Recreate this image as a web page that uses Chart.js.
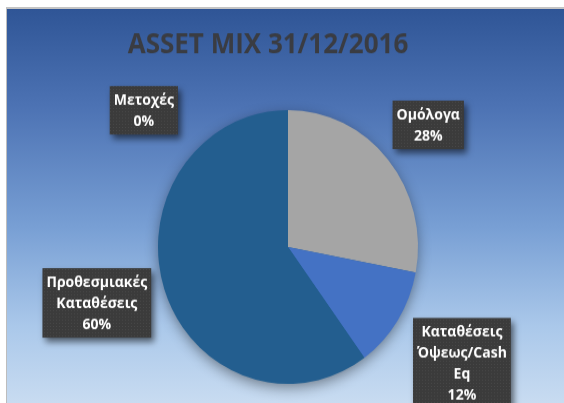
<!DOCTYPE html>
<html lang="el">
<head>
    <meta charset="UTF-8">
    <title>Asset Mix</title>
    <script src="https://cdn.jsdelivr.net/npm/chart.js"></script>
    <style>
        body { margin: 0; background: #fff; width: 564px; height: 403px; overflow: hidden; }
        .moldura {
            position: absolute; left: 6px; top: 7px; width: 558px; height: 396px;
            border-left: 1px solid #bdbdbd; border-top: 2px solid #c4c4c4;
            background: linear-gradient(to bottom, #2f5596 0%, #4d73b4 25%, #789fd4 55%, #aac8ea 80%, #c9dcf1 100%);
            overflow: hidden;
        }
        #grafico { transform-origin: 0 0; transform: scaleY(1.053); }
    </style>
</head>
<body>
    <div class="moldura">
        <canvas id="grafico" width="557" height="376"></canvas>
    </div>

<script>
    // dados
    const titulo = 'ASSET MIX 31/12/2016';
    const categorias = [['Ομόλογα'], ['Καταθέσεις', 'Όψεως/Cash', 'Eq'], ['Προθεσμιακές', 'Καταθέσεις'], ['Μετοχές']];
    const valores = [28, 12, 60, 0];
    const cores = ['#a5a5a5', '#4472c4', '#235e8f', '#ffc000'];

    // posição das caixas dos rótulos (distância além do raio, ângulo opcional)
    const posRotulos = [
        { dist: 52 },
        { dist: 76 },
        { dist: 71, dy: -9 },
        { dist: 64, angulo: -48 }
    ];

    const fonteRotulo = 'bold 14px "Open Sans"';
    const alturaLinha = 20;

    function padraoPontos(ctx) {
        const c = document.createElement('canvas');
        c.width = 3; c.height = 3;
        const p = c.getContext('2d');
        p.fillStyle = '#3b3b3b';
        p.fillRect(0, 0, 3, 3);
        p.fillStyle = '#484848';
        p.fillRect(1, 1, 1, 1);
        return ctx.createPattern(c, 'repeat');
    }

    const sombraPizza = {
        id: 'sombraPizza',
        beforeDatasetsDraw(chart) {
            const arc = chart.getDatasetMeta(0).data[0];
            const ctx = chart.ctx;
            ctx.save();
            ctx.shadowColor = 'rgba(0,0,0,0.45)';
            ctx.shadowBlur = 14;
            ctx.shadowOffsetY = 4;
            ctx.beginPath();
            ctx.arc(arc.x, arc.y, arc.outerRadius - 1, 0, Math.PI * 2);
            ctx.fillStyle = cores[2];
            ctx.fill();
            ctx.restore();
        }
    };

    const tituloPlugin = {
        id: 'tituloPlugin',
        afterDraw(chart) {
            const ctx = chart.ctx;
            ctx.save();
            ctx.font = 'bold 26px "Open Sans"';
            ctx.fillStyle = '#3a3c42';
            ctx.textAlign = 'center';
            ctx.textBaseline = 'alphabetic';
            ctx.fillText(titulo, 261, 42);
            ctx.restore();
        }
    };

    const rotulosPlugin = {
        id: 'rotulos',
        afterDatasetsDraw(chart) {
            const ctx = chart.ctx;
            const meta = chart.getDatasetMeta(0);
            const total = valores.reduce((a, b) => a + b, 0);
            const padrao = padraoPontos(ctx);
            meta.data.forEach(function (arc, i) {
                const p = posRotulos[i];
                const ang = p.angulo !== undefined ? p.angulo * Math.PI / 180 - Math.PI / 2 : (arc.startAngle + arc.endAngle) / 2;
                const d = arc.outerRadius + p.dist;
                const cx = arc.x + Math.cos(ang) * d + (p.dx || 0);
                const cy = arc.y + Math.sin(ang) * d + (p.dy || 0);
                const linhas = categorias[i].concat([Math.round(valores[i] / total * 100) + '%']);
                ctx.save();
                ctx.font = fonteRotulo;
                const larg = Math.max(...linhas.map(l => ctx.measureText(l).width)) + 8;
                const alt = linhas.length * alturaLinha + 6;
                ctx.shadowColor = 'rgba(0,0,0,0.55)';
                ctx.shadowBlur = 6;
                ctx.shadowOffsetX = 3;
                ctx.shadowOffsetY = 4;
                ctx.fillStyle = padrao;
                ctx.fillRect(cx - larg / 2, cy - alt / 2, larg, alt);
                ctx.shadowColor = 'transparent';
                ctx.fillStyle = '#ffffff';
                ctx.textAlign = 'center';
                ctx.textBaseline = 'middle';
                linhas.forEach(function (l, k) {
                    ctx.fillText(l, cx, cy - alt / 2 + 3 + alturaLinha * (k + 0.5) + 1);
                });
                ctx.restore();
            });
        }
    };

    const config = {
        type: 'pie',
        data: {
            labels: categorias,
            datasets: [{
                data: valores,
                backgroundColor: cores,
                borderWidth: 0
            }]
        },
        options: {
            responsive: false,
            animation: false,
            devicePixelRatio: 1,
            layout: { padding: { left: 151, right: 146, top: 96, bottom: 20 } },
            plugins: {
                legend: { display: false },
                tooltip: { enabled: false },
                title: { display: false }
            }
        },
        plugins: [sombraPizza, rotulosPlugin, tituloPlugin]
    };

    document.fonts.load('bold 14px "Open Sans"').then(function () {
        new Chart(document.getElementById('grafico'), config);
    });
</script>
</body>
</html>
